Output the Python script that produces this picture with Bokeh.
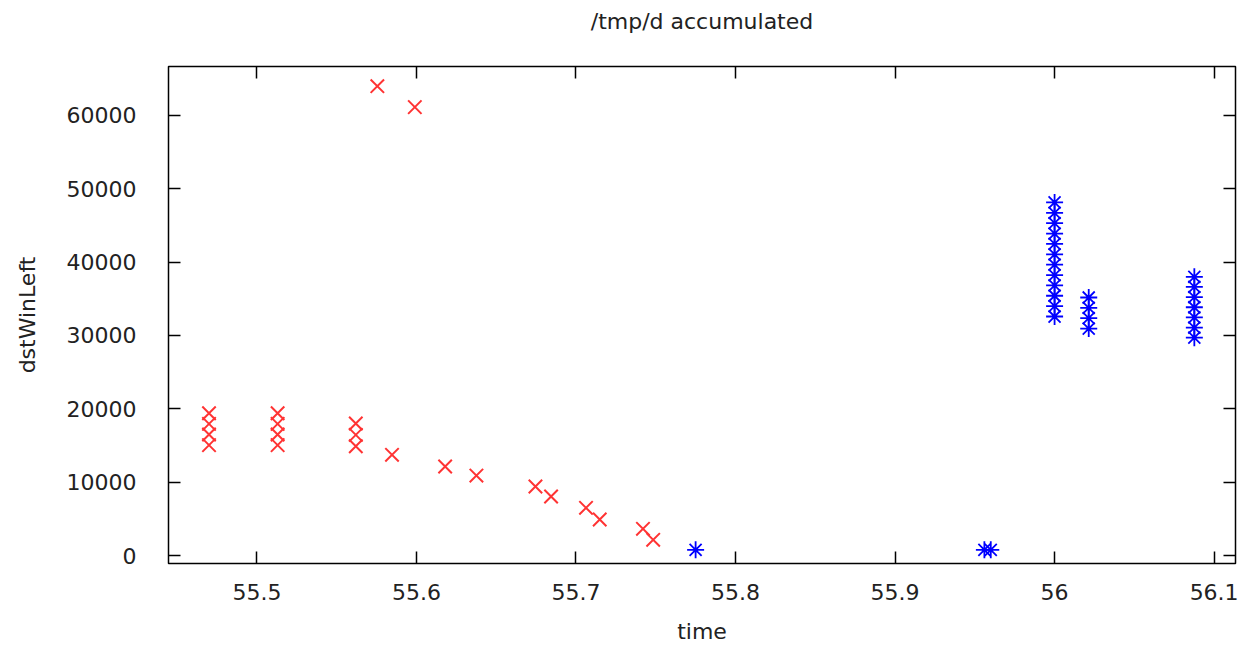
from bokeh.plotting import figure
from bokeh.models import LinearAxis, FixedTicker, CustomJSTickFormatter, Range1d, ColumnDataSource
from bokeh.embed import file_html
from bokeh.resources import INLINE

# ---- data ----
red_time = [55.470, 55.470, 55.470, 55.470,
            55.513, 55.513, 55.513, 55.513,
            55.562, 55.562, 55.562,
            55.5755, 55.5847, 55.599, 55.618, 55.6376, 55.6746,
            55.6844, 55.7063, 55.7149, 55.742, 55.7484]
red_win = [19400, 17950, 16500, 15050,
           19400, 17950, 16500, 15050,
           18000, 16450, 14900,
           64000, 13730, 61140, 12140, 10900, 9410,
           8045, 6500, 4910, 3640, 2140]

blue_time = [55.775, 55.956, 55.960,
             56.0, 56.0, 56.0, 56.0, 56.0, 56.0, 56.0, 56.0, 56.0, 56.0, 56.0, 56.0,
             56.0214, 56.0214, 56.0214, 56.0214,
             56.0876, 56.0876, 56.0876, 56.0876, 56.0876, 56.0876, 56.0876]
blue_win = [780, 780, 780,
            48140, 46725, 45310, 43900, 42485, 41070, 39660, 38245, 36830, 35420, 34005, 32590,
            35180, 33770, 32360, 30950,
            38000, 36620, 35230, 33850, 32470, 31080, 29700]

x_ticks = [55.5, 55.6, 55.7, 55.8, 55.9, 56.0, 56.1]
y_ticks = [0, 10000, 20000, 30000, 40000, 50000, 60000]

title_text = "/tmp/d accumulated"
x_label = "time"
y_label = "dstWinLeft"

FONT = "DejaVu Sans"
FS = "22px"
TXT = "#222222"

p = figure(width=1244, height=646, output_backend="svg", toolbar_location=None,
           x_range=Range1d(55.4446, 56.1134), y_range=Range1d(-1090, 66680),
           x_axis_type=None, y_axis_type=None,
           min_border_left=168, min_border_right=9, min_border_top=66, min_border_bottom=83)

p.grid.visible = False
p.outline_line_color = "black"
p.outline_line_width = 1.5
p.background_fill_color = "white"
p.border_fill_color = "white"

fmt = CustomJSTickFormatter(code="return (Math.round(tick*10)/10).toString();")
blank = CustomJSTickFormatter(code="return '';")


def style_axis(ax):
    ax.axis_line_color = None
    ax.major_tick_in = 12
    ax.major_tick_out = 0
    ax.minor_tick_in = 0
    ax.minor_tick_out = 0
    ax.major_tick_line_color = "black"
    ax.major_tick_line_width = 1.5
    ax.major_label_text_font = FONT
    ax.major_label_text_font_size = FS
    ax.major_label_text_color = TXT
    ax.axis_label_text_font = FONT
    ax.axis_label_text_font_size = FS
    ax.axis_label_text_font_style = "normal"
    ax.axis_label_text_color = TXT


xb = LinearAxis(ticker=FixedTicker(ticks=x_ticks), formatter=fmt, axis_label=x_label)
style_axis(xb)
xb.major_label_standoff = 20
xb.axis_label_standoff = 16
p.add_layout(xb, "below")

yl = LinearAxis(ticker=FixedTicker(ticks=y_ticks), axis_label=y_label)
style_axis(yl)
yl.major_label_standoff = 32
yl.axis_label_standoff = 24
yl.formatter.use_scientific = False
p.add_layout(yl, "left")

# top mirror axis; its axis label carries the chart title
xt = LinearAxis(ticker=FixedTicker(ticks=x_ticks), formatter=blank, axis_label=title_text)
style_axis(xt)
xt.major_label_standoff = 0
xt.axis_label_standoff = 33
p.add_layout(xt, "above")

yr = LinearAxis(ticker=FixedTicker(ticks=y_ticks), formatter=blank)
style_axis(yr)
yr.major_label_standoff = 0
p.add_layout(yr, "right")

red_src = ColumnDataSource(data=dict(t=red_time, w=red_win))
blue_src = ColumnDataSource(data=dict(t=blue_time, w=blue_win))

p.scatter("t", "w", source=red_src, marker="x", size=19, line_color="#ff3333", line_width=2)
p.scatter("t", "w", source=blue_src, marker="asterisk", size=17, line_color="#0000ff", line_width=1.8)

open("out.html", "w").write(file_html(p, INLINE))
